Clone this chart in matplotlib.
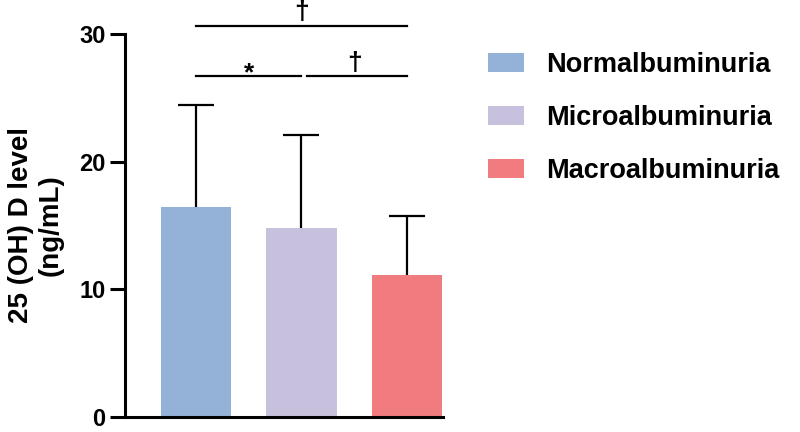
import numpy as np
import matplotlib.pyplot as plt
from matplotlib.patches import Patch

plt.rcParams['font.family'] = ['Liberation Sans', 'DejaVu Sans']
plt.rcParams['font.weight'] = 'bold'

# Data
groups = ['Normalbuminuria', 'Microalbuminuria', 'Macroalbuminuria']
means = [16.4, 14.8, 11.1]
sds = [8.0, 7.3, 4.6]
colors = ['#94B1D8', '#C8C1DD', '#F07C80']

# significance brackets: (left group, right group, height, label)
sig_pairs = [(0, 2, 30.65, '\u2020'), (0, 1, 26.7, '*'), (1, 2, 26.7, '\u2020')]

fig = plt.figure(figsize=(8, 4.32), dpi=100)
ax = fig.add_axes([0.156, 0.0354, 0.398, 0.886])

x = np.arange(len(groups))
ax.bar(x, means, width=0.667, color=colors, zorder=2)
# lower half of the error bar is hidden behind the bars
ax.errorbar(x, means, yerr=sds, fmt='none',
            ecolor='black', elinewidth=1.6, capsize=13, capthick=1.6, zorder=1)

# brackets
for a, b, h, lab in sig_pairs:
    xa, xb = x[a], x[b]
    if b - a == 1:
        if a == 0:
            xb = xb - 0.005
        else:
            xa = xa + 0.05
    ax.plot([xa, xb], [h, h], color='black', lw=1.6, clip_on=False)
    xm = (x[a] + x[b]) / 2
    off = -0.3 if lab == '*' else 0.5
    ax.text(xm, h + off, lab, ha='center', va='baseline', fontsize=19,
            fontweight='bold', clip_on=False)

ax.set_xlim(-0.676, 2.345)
ax.set_ylim(0, 30)
ax.set_yticks([0, 10, 20, 30])
ax.set_xticks([])
for s in ['top', 'right']:
    ax.spines[s].set_visible(False)
ax.spines['left'].set_linewidth(2.2)
ax.spines['bottom'].set_linewidth(2.2)
ax.tick_params(axis='y', length=11, width=2.2, labelsize=17, pad=3)
for t in ax.get_yticklabels():
    t.set_fontweight('bold')
ax.set_ylabel('25 (OH) D level\n(ng/mL)', fontsize=20, fontweight='bold',
              labelpad=11, linespacing=1.2)

handles = [Patch(facecolor=c, edgecolor='none') for c in colors]
fig.legend(handles, groups, loc='upper left', bbox_to_anchor=(0.596, 0.905),
           frameon=False, fontsize=19.5, handlelength=1.36, handleheight=0.74,
           handletextpad=0.8, labelspacing=1.0, borderaxespad=0)

plt.savefig('out.png', dpi=100)
